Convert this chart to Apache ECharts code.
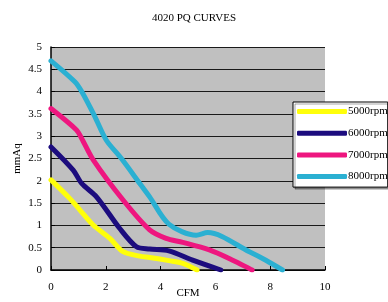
<!DOCTYPE html>
<html>
<head>
<meta charset="utf-8">
<script src="https://cdn.jsdelivr.net/npm/echarts@6/dist/echarts.min.js"></script>
<style>
  html, body { margin: 0; padding: 0; background: #fff; }
  #chart { width: 388px; height: 302px; }
</style>
</head>
<body>
<div id="chart"></div>
<script>
// curve data: [CFM, mmAq]
const rpm5000 = [[0, 2.02], [0.69, 1.6], [1.05, 1.35], [1.54, 1.01], [2.15, 0.71], [2.63, 0.41], [3.24, 0.31], [3.6, 0.28], [4.3, 0.21], [4.81, 0.15], [5.33, 0]];
const rpm6000 = [[0, 2.76], [0.81, 2.24], [1.12, 1.94], [1.66, 1.64], [2.51, 0.93], [3.12, 0.52], [3.6, 0.47], [4.3, 0.43], [5.17, 0.22], [6.2, 0]];
const rpm7000 = [[0, 3.62], [0.93, 3.14], [1.12, 2.95], [1.54, 2.47], [2.63, 1.57], [3.6, 0.9], [4.2, 0.71], [4.81, 0.62], [5.78, 0.45], [6.63, 0.22], [7.34, 0]];
const rpm8000 = [[0, 4.69], [0.87, 4.22], [1.12, 4.0], [1.6, 3.44], [2.02, 2.91], [2.57, 2.5], [3.24, 1.94], [3.6, 1.64], [4.3, 1.03], [5.3, 0.78], [5.72, 0.84], [7.24, 0.41], [7.84, 0.22], [8.45, 0]];

const seriesNames = ['5000rpm', '6000rpm', '7000rpm', '8000rpm'];
const seriesColors = ['#ffff0a', '#1c0c7e', '#ee167f', '#2bb0d2'];
const seriesData = [rpm5000, rpm6000, rpm7000, rpm8000];

const font = 'Liberation Serif';

const chart = echarts.init(document.getElementById('chart'));
chart.setOption({
  animation: false,
  title: {
    text: '4020 PQ CURVES',
    left: 'center',
    top: 8,
    textStyle: { fontFamily: font, fontSize: 11, fontWeight: 'normal', color: '#000' }
  },
  legend: {
    orient: 'vertical',
    left: 293,
    top: 102,
    padding: [4, 0, 5, 4],
    itemWidth: 50,
    itemHeight: 5,
    itemGap: 10.7,
    icon: 'roundRect',
    backgroundColor: '#fff',
    borderColor: '#000',
    borderWidth: 1,
    shadowColor: 'rgba(0,0,0,0.35)',
    shadowBlur: 0,
    shadowOffsetX: 2,
    shadowOffsetY: 2,
    textStyle: { fontFamily: font, fontSize: 11, color: '#000', padding: [0, 0, 0, -4] },
    data: seriesNames
  },
  grid: {
    left: 51,
    right: 63,
    top: 47,
    bottom: 32,
    outerBoundsMode: 'none',
    show: true,
    backgroundColor: '#c0c0c0',
    borderWidth: 0
  },
  xAxis: {
    type: 'value',
    min: 0,
    max: 10,
    interval: 2,
    name: 'CFM',
    nameLocation: 'middle',
    nameGap: 18,
    nameMoveOverlap: false,
    nameTextStyle: { fontFamily: font, fontSize: 11, color: '#000' },
    axisLine: { lineStyle: { color: '#000', width: 1.5 } },
    axisTick: { inside: true, length: 4, lineStyle: { color: '#000' } },
    axisLabel: { fontFamily: font, fontSize: 11, color: '#000', margin: 12 },
    splitLine: { show: false }
  },
  yAxis: {
    type: 'value',
    min: 0,
    max: 5,
    interval: 0.5,
    name: 'mmAq',
    nameLocation: 'middle',
    nameGap: 28,
    nameMoveOverlap: false,
    nameTextStyle: { fontFamily: font, fontSize: 11, color: '#000' },
    axisLine: { show: true, lineStyle: { color: '#000', width: 1.5 } },
    axisTick: { show: true, inside: true, length: 4, lineStyle: { color: '#000' } },
    axisLabel: { fontFamily: font, fontSize: 11, color: '#000', margin: 9 },
    splitLine: { show: true, lineStyle: { color: '#1a1a1a', width: 1 } }
  },
  series: seriesNames.map((name, i) => ({
    name: name,
    type: 'line',
    data: seriesData[i],
    smooth: 0.3,
    showSymbol: false,
    symbol: 'none',
    color: seriesColors[i],
    lineStyle: { width: 5, color: seriesColors[i], cap: 'round' }
  }))
});
</script>
</body>
</html>
